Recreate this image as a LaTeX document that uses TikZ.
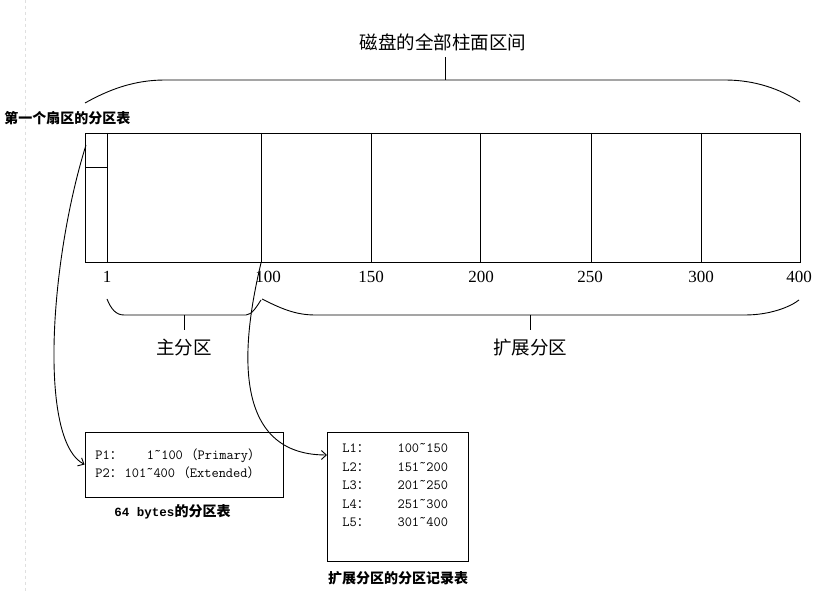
\documentclass[tikz,border=0pt]{standalone}
\usepackage{fontspec}
\setmainfont{Liberation Serif}
\setmonofont{Latin Modern Mono}
\newfontfamily\bmono{Liberation Mono}
\newfontfamily\cjk{Noto Sans CJK SC}
\usetikzlibrary{arrows.meta}
\newlength\cw
\setlength\cw{7.4pt}
\newcommand\fwl[1]{\makebox[2\cw][l]{\cjk\fontsize{12.5}{14}\selectfont #1}}
\newcommand\fwr[1]{\makebox[2\cw][r]{\cjk\fontsize{12.5}{14}\selectfont #1}}
\newcommand\tld{\raisebox{.3em}{\textasciitilde}}
\tikzset{
  lab/.style={font=\cjk\fontsize{18.5}{20}\selectfont, inner sep=0pt},
  blab/.style={font=\cjk\bfseries\fontsize{14}{16}\selectfont, inner sep=0pt},
  num/.style={font=\fontsize{17}{19}\selectfont, inner sep=0pt},
  mono/.style={font=\ttfamily\fontsize{14}{18.5}\selectfont, inner sep=0pt, align=left},
  boxed/.style={draw, inner sep=0pt},
  arr/.style={-{Straight Barb[length=5pt,width=9pt]}},
}
\begin{document}
\begin{tikzpicture}[x=1pt,y=-1pt,line width=0.9pt]
\useasboundingbox (0,0) rectangle (828,593);
\draw[gray!25,line width=0.8pt,dashed] (25,0) -- (25,593);

% disk
\node[boxed, minimum width=715, minimum height=129] (disk) at (442.5,197.5) {};
\foreach \x in {107,261,371,480,591,701} \draw (\x,133) -- (\x,262);
\draw (85,167) -- (107,167);

% numbers
\node[num] (n1) at (107,277) {1};
\node[num] (n100) at (268,277) {100};
\node[num] (n150) at (371,277) {150};
\node[num] (n200) at (481,277) {200};
\node[num] (n250) at (590,277) {250};
\node[num] (n300) at (701,277) {300};
\node[num] (n400) at (799,277) {400};

% top brace
\draw (85,103) .. controls (110,89) and (135,80) .. (165,80) -- (725,80) .. controls (755,80) and (780,89) .. (800,102);
\draw (445,80) -- (445,57);
\node[lab] (title) at (443,42) {磁盘的全部柱面区间};

% bottom braces
\draw (107,299) .. controls (111,309) and (116,315) .. (124,315) -- (246,315) .. controls (252,315) and (257,306) .. (261,300);
\draw (184,315) -- (184,330);
\node[lab] (main) at (184,348) {主分区};
\draw (262,299) .. controls (280,308) and (295,315) .. (315,315) -- (745,315) .. controls (770,315) and (790,307) .. (799,300);
\draw (530,315) -- (530,330);
\node[lab] (ext) at (530,348) {扩展分区};

\node[blab] (first) at (67.5,118) {第一个扇区的分区表};

% partition table box
\node[boxed, minimum width=198, minimum height=65] (pbox) at (184,464.5) {};
\node[mono, anchor=west] (ptext) at (95,464) {P1\fwl{：}\hspace{3\cw}1\tld100\fwr{（}Primary\fwl{）}\\P2\fwl{：}101\tld400\fwr{（}Extended\fwl{）}};
\node[inner sep=0pt, font=\fontsize{14}{16}\selectfont] (plab) at (172.5,512) {{\bmono\bfseries\fontsize{12.5}{16}\selectfont 64 bytes}{\cjk\bfseries 的分区表}};

% extended table box
\node[boxed, minimum width=141, minimum height=129] (lbox) at (397.5,496.5) {};
\node[mono, anchor=north west] (ltext) at (342,443) {L1\fwl{：}\hspace{3.5\cw}100\tld150\\L2\fwl{：}\hspace{3.5\cw}151\tld200\\L3\fwl{：}\hspace{3.5\cw}201\tld250\\L4\fwl{：}\hspace{3.5\cw}251\tld300\\L5\fwl{：}\hspace{3.5\cw}301\tld400};
\node[blab] (llab) at (398,578) {扩展分区的分区记录表};

% connectors
\coordinate (s1) at (86,145);
\coordinate (s2) at (261,263);
\coordinate (e2) at (327,455);
\draw[arr] (s1) .. controls (50,260) and (38,440) .. (pbox.west);
\draw[arr] (s2) .. controls (245,330) and (225,455) .. (e2);
\end{tikzpicture}
\end{document}
